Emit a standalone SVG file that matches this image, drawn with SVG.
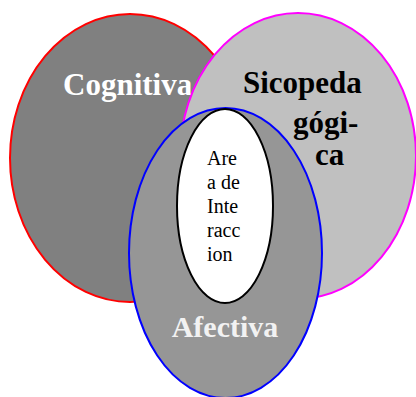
<svg xmlns="http://www.w3.org/2000/svg" width="416" height="397" viewBox="0 0 416 397">
<style>
.big{font-family:"Liberation Serif","Times New Roman",serif;font-weight:bold;font-size:31px}
.small{font-family:"Liberation Serif","Times New Roman",serif;font-size:20px;fill:#000}
</style>
<rect width="416" height="397" fill="#fff"/>
<g id="cognitiva">
<ellipse cx="130" cy="158" rx="120" ry="144" fill="#808080" stroke="#ff0000" stroke-width="2"/>
<text class="big" x="63" y="95" fill="#fff">Cognitiva</text>
</g>
<g id="sicopedagogica">
<ellipse cx="298" cy="156" rx="118" ry="143" fill="#c0c0c0" stroke="#ff00ff" stroke-width="2"/>
<text class="big" fill="#000"><tspan x="243" y="93">Sicopeda</tspan><tspan x="293" y="133">gógi-</tspan><tspan x="315" y="165">ca</tspan></text>
</g>
<g id="afectiva">
<ellipse cx="225.5" cy="253" rx="96.5" ry="145" fill="#969696" stroke="#0000ff" stroke-width="2"/>
<text class="big" x="225" y="337" text-anchor="middle" fill="#f2f2f2" style="font-size:30px">Afectiva</text>
</g>
<g id="interaccion">
<ellipse cx="225" cy="206" rx="48" ry="97" fill="#fff" stroke="#000" stroke-width="2"/>
<text class="small"><tspan x="207" y="165">Are</tspan><tspan x="207" y="189">a de</tspan><tspan x="207" y="213">Inte</tspan><tspan x="207" y="237">racc</tspan><tspan x="207" y="261">ion</tspan></text>
</g>
<g id="connectors"/>
</svg>
